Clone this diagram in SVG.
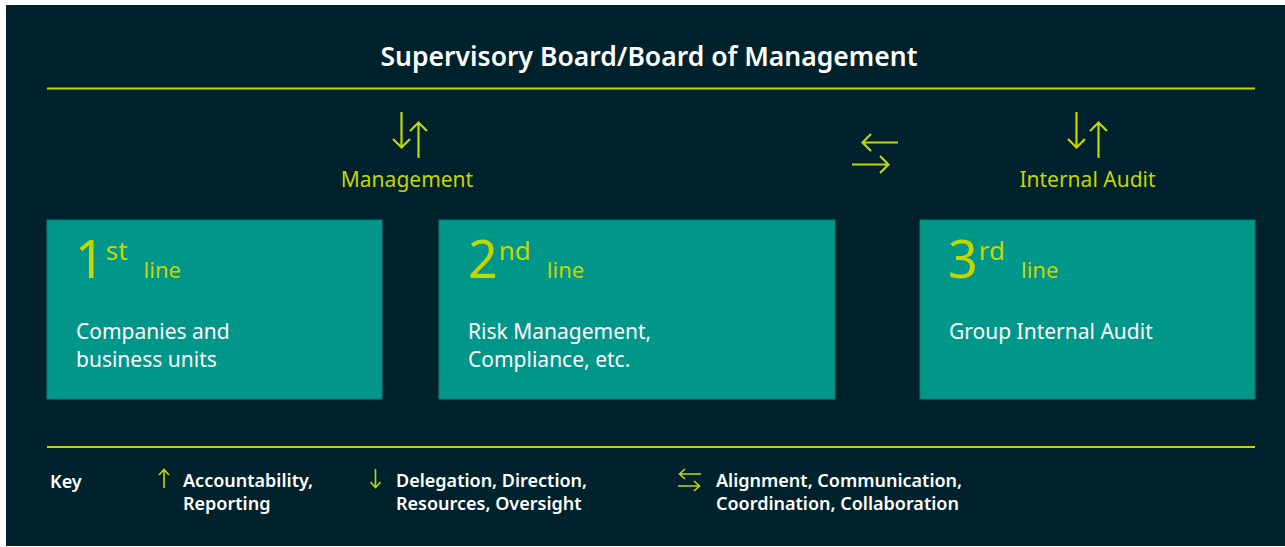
<svg xmlns="http://www.w3.org/2000/svg" width="1285" height="547" viewBox="0 0 1285 547">
<defs>
<style>
.bg{fill:#00222d}
.box{fill:#00968a;stroke:#0a7f78;stroke-width:1}
.rule{stroke:#c4d600;stroke-width:2}
.arr{stroke:#c4d600;stroke-width:2.2;fill:none;stroke-linecap:butt}
.t{font-family:"Noto Sans","Open Sans",sans-serif}
.title{font-size:26.5px;font-weight:600;fill:#ffffff}
.lbl{font-size:21px;fill:#c4d600}
.num{font-size:52px;fill:#c4d600}
.sup{font-size:26px;fill:#c4d600}
.line{font-size:22px;fill:#c4d600}
.body{font-size:21px;fill:#ffffff}
.key{font-size:18px;font-weight:600;fill:#ffffff}
</style>
</defs>
<rect class="bg" x="6" y="5" width="1279" height="541"/>
<g id="header">
<text class="t title" x="649" y="66" text-anchor="middle">Supervisory Board/Board of Management</text>
<line class="rule" x1="47" y1="88.5" x2="1255" y2="88.5"/>
</g>
<g id="connectors">
<g id="mgmt-arrows">
<path class="arr" d="M401.5 112 V147 M393 139 L401.5 147.5 L410 139"/>
<path class="arr" d="M418.5 158 V123 M410 131 L418.5 122.5 L427 131"/>
</g>
<g id="align-arrows">
<path class="arr" d="M898 142.5 H863 M871 134 L862.5 142.5 L871 151"/>
<path class="arr" d="M852 164.5 H888 M880 156 L888.5 164.5 L880 173"/>
</g>
<g id="audit-arrows">
<path class="arr" d="M1076.5 112 V147 M1068 139 L1076.5 147.5 L1085 139"/>
<path class="arr" d="M1098.5 158 V123 M1090 131 L1098.5 122.5 L1107 131"/>
</g>
</g>
<g id="label-management"><text class="t lbl" x="407" y="187" text-anchor="middle">Management</text></g>
<g id="label-audit"><text class="t lbl" x="1087.5" y="187" text-anchor="middle">Internal Audit</text></g>
<g id="node-1st">
<rect class="box" x="47" y="220" width="335" height="179"/>
<text class="t" x="75" y="278"><tspan class="num">1</tspan><tspan class="sup" dx="1" dy="-18">st</tspan><tspan class="line" dx="16" dy="18">line</tspan></text>
<text class="t body" x="76" y="339">Companies and</text>
<text class="t body" x="76" y="367">business units</text>
</g>
<g id="node-2nd">
<rect class="box" x="439" y="220" width="396" height="179"/>
<text class="t" x="468" y="278"><tspan class="num">2</tspan><tspan class="sup" dx="1" dy="-18">nd</tspan><tspan class="line" dx="16" dy="18">line</tspan></text>
<text class="t body" x="468" y="339">Risk Management,</text>
<text class="t body" x="468" y="367">Compliance, etc.</text>
</g>
<g id="node-3rd">
<rect class="box" x="920" y="220" width="335" height="179"/>
<text class="t" x="948" y="278"><tspan class="num">3</tspan><tspan class="sup" dx="1" dy="-18">rd</tspan><tspan class="line" dx="16" dy="18">line</tspan></text>
<text class="t body" x="949" y="339">Group Internal Audit</text>
</g>
<g id="key">
<line class="rule" x1="47" y1="447" x2="1255" y2="447"/>
<text class="t key" x="50" y="488">Key</text>
<path class="arr" style="stroke-width:1.6" d="M164 488 V470 M159 475 L164 469.5 L169 475"/>
<text class="t key" x="183" y="487">Accountability,</text>
<text class="t key" x="183" y="510">Reporting</text>
<path class="arr" style="stroke-width:1.6" d="M375.5 469 V487 M370.5 482 L375.5 487.5 L380.5 482"/>
<text class="t key" x="396" y="487">Delegation, Direction,</text>
<text class="t key" x="396" y="510">Resources, Oversight</text>
<path class="arr" style="stroke-width:1.6" d="M701 474 H680 M685 469 L679.5 474 L685 479 M678 486 H699 M694 481 L699.5 486 L694 491"/>
<text class="t key" x="716" y="487">Alignment, Communication,</text>
<text class="t key" x="716" y="510">Coordination, Collaboration</text>
</g>
</svg>
